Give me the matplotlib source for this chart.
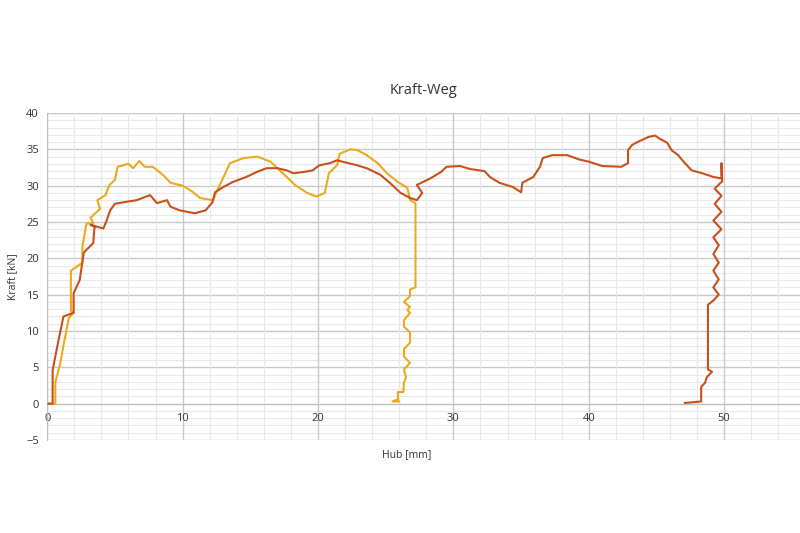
"""
Kraft-Weg diagram: force over stroke for two test runs
"""

import matplotlib.pyplot as plt
from matplotlib.ticker import MultipleLocator

plt.rcParams["font.family"] = ["Open Sans", "DejaVu Sans"]

# run 1 (yellow): stroke [mm], force [kN]
hub_1 = [0.0, 0.6, 0.6, 0.95, 1.2, 1.6, 1.95, 1.75, 1.75, 2.6, 2.6, 2.9, 3.4, 3.2,
         3.9, 3.7, 4.3, 4.6, 5.0, 5.2, 6.0, 6.35, 6.8, 7.2, 7.8, 8.6, 9.1, 10.0,
         10.7, 11.3, 12.25, 12.5, 13.5, 14.5, 15.5, 16.5, 17.0, 17.7, 18.3, 19.2,
         19.9, 20.5, 20.8, 21.4, 21.6, 22.4, 22.9, 23.6, 24.4, 25.1, 25.9, 26.6,
         26.8, 27.2, 27.2, 26.8, 26.8, 26.35, 26.8, 26.6, 26.8, 26.35, 26.35,
         26.8, 26.8, 26.35, 26.35, 26.8, 26.35, 26.5, 26.35, 26.3, 25.9, 25.9,
         25.5, 26.0]
kraft_1 = [0.0, 0.0, 3.0, 5.4, 8.0, 11.8, 12.5, 12.7, 18.3, 19.4, 21.6, 24.8, 24.8,
           25.6, 26.8, 28.0, 28.7, 30.1, 30.8, 32.6, 33.0, 32.4, 33.4, 32.6, 32.6,
           31.4, 30.4, 30.0, 29.2, 28.3, 28.0, 29.1, 33.1, 33.8, 34.0, 33.3, 32.4,
           31.2, 30.1, 29.0, 28.5, 29.0, 31.7, 32.8, 34.4, 35.0, 34.9, 34.2, 33.1,
           31.7, 30.5, 29.7, 28.0, 27.6, 16.0, 15.7, 14.8, 14.0, 13.3, 12.9, 12.5,
           11.5, 10.6, 9.8, 8.4, 7.5, 6.5, 5.6, 4.7, 3.6, 2.9, 1.6, 1.6, 0.6,
           0.3, 0.3]

# run 2 (red): stroke [mm], force [kN]
hub_2 = [0.1, 0.4, 0.4, 0.8, 1.2, 1.95, 1.95, 2.4, 2.7, 3.4, 3.5, 3.2, 4.15, 4.35,
         4.65, 5.0, 5.9, 6.6, 7.6, 8.1, 8.85, 9.1, 9.8, 10.9, 11.7, 12.2, 12.4,
         13.0, 13.7, 14.7, 15.5, 16.2, 17.0, 17.7, 18.2, 19.0, 19.6, 20.1, 20.9,
         21.4, 21.8, 22.9, 23.6, 24.6, 25.3, 26.1, 26.8, 27.3, 27.7, 27.3, 28.3,
         29.1, 29.5, 30.5, 31.2, 32.3, 32.7, 33.4, 34.4, 35.0, 35.1, 35.9, 36.4,
         36.6, 37.3, 38.4, 39.3, 40.0, 41.0, 42.4, 42.9, 42.9, 43.2, 43.6, 44.4,
         44.9, 45.2, 45.8, 46.1, 46.6, 47.1, 47.6, 48.4, 49.2, 49.8, 49.8, 49.85,
         49.3, 49.8, 49.3, 49.8, 49.2, 49.8, 49.2, 49.6, 49.2, 49.6, 49.2, 49.6,
         49.2, 49.6, 49.2, 48.8, 48.8, 49.1, 48.7, 48.6, 48.3, 48.3, 47.1]
kraft_2 = [0.0, 0.0, 4.6, 8.4, 12.0, 12.5, 15.2, 17.0, 20.8, 22.1, 24.4, 24.6, 24.1,
           25.0, 26.6, 27.5, 27.8, 28.0, 28.7, 27.6, 28.0, 27.1, 26.6, 26.2, 26.6,
           27.7, 29.1, 29.8, 30.5, 31.2, 31.9, 32.4, 32.4, 32.1, 31.7, 31.9, 32.1,
           32.8, 33.1, 33.5, 33.3, 32.8, 32.4, 31.5, 30.4, 29.0, 28.3, 28.0, 29.0,
           30.1, 31.0, 31.9, 32.6, 32.7, 32.3, 32.0, 31.2, 30.4, 29.8, 29.1, 30.4,
           31.2, 32.6, 33.8, 34.2, 34.2, 33.6, 33.3, 32.7, 32.6, 33.1, 34.9, 35.6,
           36.0, 36.7, 36.9, 36.5, 35.9, 34.9, 34.2, 33.1, 32.1, 31.7, 31.2, 31.0,
           33.1, 30.6, 29.6, 28.6, 27.5, 26.4, 25.2, 24.0, 22.9, 21.8, 20.6, 19.4,
           18.3, 17.1, 16.0, 15.0, 14.2, 13.6, 4.7, 4.4, 3.6, 2.9, 2.3, 0.3, 0.1]

fig = plt.figure(figsize=(8, 5.33), dpi=100)
ax = fig.add_axes([0.059, 0.1745, 0.941, 0.6135])

ax.plot(hub_1, kraft_1, "-", color="#EBA91E", lw=1.5, zorder=3)
ax.plot(hub_2, kraft_2, "-", color="#C8501A", lw=1.5, zorder=4)

ax.set_xlim(0, 55.6)
ax.set_ylim(-5, 40)
ax.xaxis.set_major_locator(MultipleLocator(10))
ax.xaxis.set_minor_locator(MultipleLocator(2))
ax.yaxis.set_major_locator(MultipleLocator(5))
ax.yaxis.set_minor_locator(MultipleLocator(1))

ax.grid(which="major", color="#C8C8C8", lw=1.0)
ax.grid(which="minor", color="#E8E8E8", lw=0.8)
ax.set_axisbelow(True)
# draw the y axis (horizontal gridlines) first so x tick labels stay on top
ax.yaxis.set_zorder(0.4)

for side in ["top", "right"]:
    ax.spines[side].set_visible(False)
ax.spines["left"].set_color("#BFBFBF")
ax.spines["bottom"].set_color("#BFBFBF")
ax.spines["bottom"].set_position(("data", 0))

ax.tick_params(which="both", length=0, labelsize=8, colors="#333333")
ax.tick_params(axis="y", pad=6)
ax.tick_params(axis="x", pad=7)

ax.set_title("Kraft-Weg", fontsize=10.5, color="#333333", pad=14)
ax.set_xlabel("Hub [mm]", fontsize=7.5, color="#333333")
ax.set_ylabel("Kraft [kN]", fontsize=7.5, color="#333333")
ax.xaxis.set_label_coords(0.477, -0.028)
ax.yaxis.set_label_coords(-0.038, 0.5)

fig.savefig("out.png", dpi=100)
